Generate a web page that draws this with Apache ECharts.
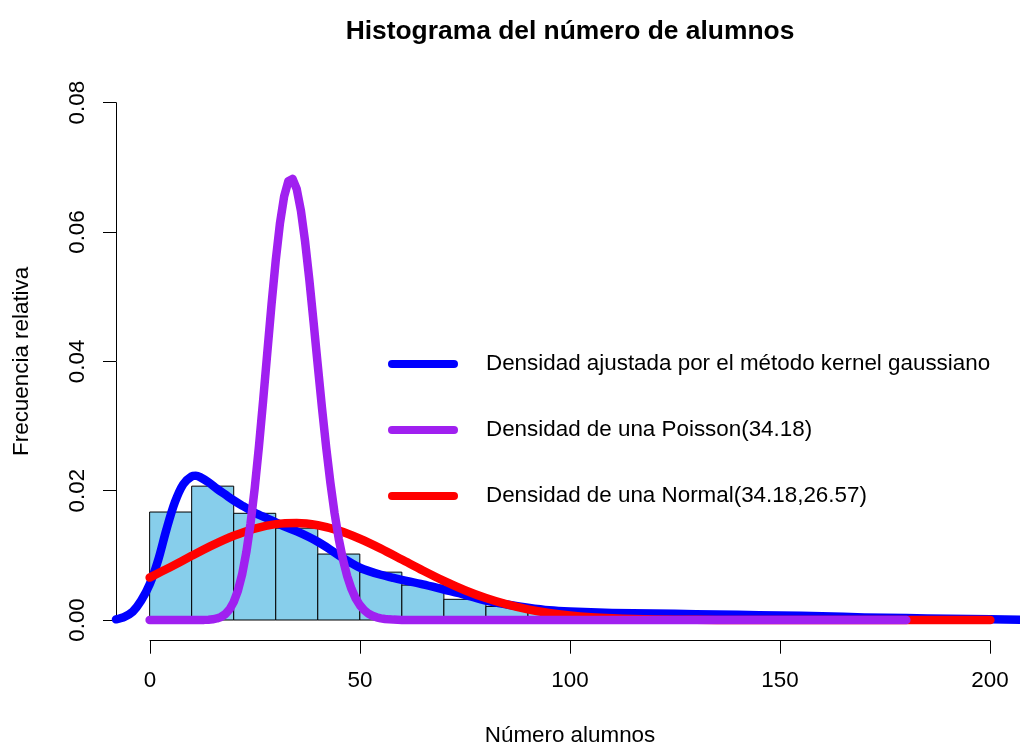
<!DOCTYPE html>
<html>
<head>
<meta charset="utf-8">
<script src="https://cdn.jsdelivr.net/npm/echarts@6/dist/echarts.min.js"></script>
<style>
html,body{margin:0;padding:0;background:#fff;}
#chart{width:1020px;height:745px;}
</style>
</head>
<body>
<div id="chart"></div>
<script>
// ---- Data ----
const binStarts = [0,10,20,30,40,50,60,70,80,90,100,110,120,130,140,150,160,170,180,190];
const binWidth = 10;
const binValues = [0.0167,0.0207,0.0165,0.0142,0.0102,0.0074,0.0054,0.0032,0.0021,0.0012,
                   0.0006,0.0005,0.0004,0.0003,0.0003,0.0002,0.0002,0.0001,0.0001,0.0001];

const kernelX = [-8,-6,-4,-2,0,2,4,6,8,10,11,12,14,16,18,20,22,25,28,30,32,35,38,40,42,45,48,50,52,55,58,60,65,70,75,80,85,90,95,100,110,120,130,140,150,160,170,180,190,200,208];
const kernelY = [0.0001,0.0005,0.0013,0.0030,0.0055,0.0092,0.0140,0.0182,0.0210,0.0222,0.0223,0.0221,0.0213,0.0203,0.0194,0.0185,0.0177,0.0166,0.0157,0.0151,0.0145,0.0137,0.0128,0.0121,0.0113,0.0100,0.0088,0.0081,0.0076,0.0070,0.0065,0.0062,0.0055,0.0047,0.0039,0.0030,0.0024,0.0019,0.0015,0.0013,0.0011,0.0010,0.0009,0.0008,0.0007,0.0006,0.0004,0.0003,0.0002,0.0001,0.00005];

const poissonX = [0,10,12,13,14,15,16,17,18,19,20,21,22,23,24,25,26,27,28,29,30,31,32,33,34,35,36,37,38,39,40,41,42,43,44,45,46,47,48,49,50,51,52,53,54,55,56,57,58,60,70,180];
const poissonY = [0,0,0.00001,0.00002,0.00005,0.00011,0.00024,0.00048,0.00091,0.00163,0.00279,0.00454,0.00705,0.01047,0.01491,0.02039,0.02681,0.03394,0.04143,0.04883,0.05563,0.06134,0.06552,0.06786,0.06822,0.06662,0.06325,0.05843,0.05256,0.04606,0.03936,0.03281,0.02670,0.02122,0.01649,0.01252,0.00931,0.00677,0.00482,0.00336,0.00230,0.00154,0.00101,0.00065,0.00041,0.00026,0.00016,0.00010,0.00006,0.00002,0,0];

const normalX = [0,5,10,15,20,25,30,35,40,45,50,55,60,65,70,75,80,85,90,95,100,105,110,115,120,130,140,200];
const normalY = [0.00656,0.00821,0.00992,0.01157,0.01302,0.01414,0.01483,0.01500,0.01466,0.01382,0.01257,0.01104,0.00936,0.00766,0.00605,0.00461,0.00339,0.00241,0.00165,0.00109,0.00070,0.00043,0.000256,0.000147,0.0000815,0.0000225,0,0];

const xTicks = [0,50,100,150,200];
const yTicks = [0,0.02,0.04,0.06,0.08];

const nameKernel = 'Densidad ajustada por el método kernel gaussiano';
const namePoisson = 'Densidad de una Poisson(34.18)';
const nameNormal = 'Densidad de una Normal(34.18,26.57)';

// ---- Build ----
const FONT = 'Liberation Sans';
const FS = 22.4;
const histData = binStarts.map((s,i)=>[s, s+binWidth, binValues[i]]);
const zip = (xs,ys)=>xs.map((x,i)=>[x,ys[i]]);

const chart = echarts.init(document.getElementById('chart'), null, {renderer:'canvas'});
const capsule = 'path://M4,0L66,0A4,4,0,0,1,66,8L4,8A4,4,0,0,1,4,0Z';

chart.setOption({
  animation:false,
  backgroundColor:'#ffffff',
  textStyle:{fontFamily:FONT},
  title:{
    text:'Histograma del número de alumnos',
    left:570, top:19, textAlign:'center', padding:0,
    textStyle:{fontFamily:FONT, fontSize:26.4, fontWeight:'bold', color:'#000'}
  },
  legend:{
    orient:'vertical', left:388, top:353, itemGap:44, padding:0,
    icon:capsule, itemWidth:70, itemHeight:9,
    data:[nameKernel,namePoisson,nameNormal],
    textStyle:{fontFamily:FONT, fontSize:FS, color:'#000', lineHeight:22, padding:[0,0,0,23]},
    selectedMode:false
  },
  grid:[
    {left:116, right:-4, top:82, bottom:104.3, outerBoundsMode:'none', containLabel:false},
    {left:150, right:30, top:102.7, bottom:125, outerBoundsMode:'none', containLabel:false}
  ],
  xAxis:[
    {gridIndex:0, type:'value', min:-8, max:208, show:false},
    {gridIndex:1, type:'value', min:0, max:200, interval:50, offset:20.7,
     axisLine:{show:true, onZero:false, lineStyle:{color:'#000', width:1}},
     axisTick:{show:true, length:13, lineStyle:{color:'#000', width:1}},
     axisLabel:{fontFamily:FONT, fontSize:FS, color:'#000', margin:29,
       formatter:v=>String(v)},
     splitLine:{show:false},
     name:'Número alumnos', nameLocation:'middle', nameGap:84,
     nameTextStyle:{fontFamily:FONT, fontSize:FS, color:'#000'}}
  ],
  yAxis:[
    {gridIndex:0, type:'value', min:-0.0032, max:0.0832, show:false},
    {gridIndex:1, type:'value', min:0, max:0.08, interval:0.02, offset:34,
     axisLine:{show:true, onZero:false, lineStyle:{color:'#000', width:1}},
     axisTick:{show:true, length:13, lineStyle:{color:'#000', width:1}},
     axisLabel:{fontFamily:FONT, fontSize:FS, color:'#000', margin:27, rotate:90,
       formatter:v=>v.toFixed(2)},
     splitLine:{show:false},
     name:'Frecuencia relativa', nameLocation:'middle', nameGap:83, nameRotate:90,
     nameTextStyle:{fontFamily:FONT, fontSize:FS, color:'#000'}}
  ],
  series:[
    {
      type:'custom', xAxisIndex:0, yAxisIndex:0,
      data:histData, encode:{x:[0,1], y:2},
      renderItem:function(params, api){
        const p0 = api.coord([api.value(0), api.value(2)]);
        const p1 = api.coord([api.value(1), 0]);
        return {type:'rect',
          shape:{x:p0[0], y:p0[1], width:p1[0]-p0[0], height:p1[1]-p0[1]},
          style:{fill:'#87CEEB', stroke:'#000', lineWidth:1}};
      },
      z:1
    },
    {
      name:nameKernel, type:'line', xAxisIndex:0, yAxisIndex:0,
      data:zip(kernelX,kernelY), showSymbol:false, smooth:0.3,
      color:'#0000FF',
      lineStyle:{color:'#0000FF', width:8.5, cap:'round', join:'round'}, z:2
    },
    {
      name:nameNormal, type:'line', xAxisIndex:0, yAxisIndex:0,
      data:zip(normalX,normalY), showSymbol:false, smooth:0.3,
      color:'#FF0000',
      lineStyle:{color:'#FF0000', width:8.5, cap:'round', join:'round'}, z:3
    },
    {
      name:namePoisson, type:'line', xAxisIndex:0, yAxisIndex:0,
      data:zip(poissonX,poissonY), showSymbol:false, smooth:false,
      color:'#A020F0',
      lineStyle:{color:'#A020F0', width:8.5, cap:'round', join:'round'}, z:4
    }
  ]
});
</script>
</body>
</html>
